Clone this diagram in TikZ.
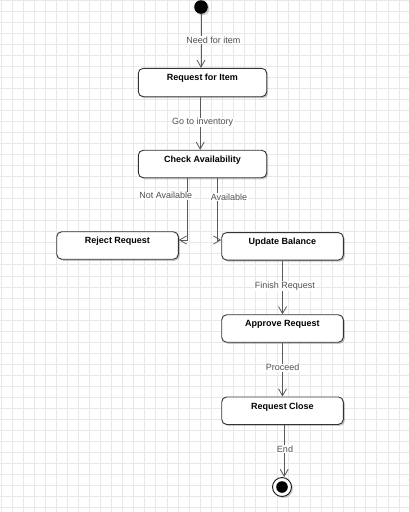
\documentclass[tikz,border=0pt]{standalone}
\usepackage{fontspec}
\setmainfont{Liberation Sans}
\usetikzlibrary{arrows.meta,shadows}
\definecolor{gridc}{HTML}{E8E8E8}
\definecolor{linec}{HTML}{5A5A5A}
\definecolor{labc}{HTML}{505050}
\definecolor{boxc}{HTML}{333333}
\begin{document}
\begin{tikzpicture}[x=1pt,y=-1pt,
  stbox/.style={draw=boxc, line width=0.9pt, fill=white, rounded corners=5pt,
    minimum width=121.6pt, minimum height=27.5pt, inner sep=3pt,
    text height=9.2pt, text depth=12.3pt, font=\fontsize{9}{11}\selectfont\bfseries,
    drop shadow={shadow xshift=1.5pt, shadow yshift=-1.5pt, opacity=0.22, fill=black}},
  trlabel/.style={fill=white, inner sep=0.6pt, text=labc, font=\fontsize{9}{11}\selectfont},
  arr/.style={draw=linec, line width=0.9pt, -{Straight Barb[length=7pt,width=8pt,line width=0.8pt]}}
]
\useasboundingbox (0,0) rectangle (409,512);
\fill[white] (0,0) rectangle (409,512);
% grid
\foreach \i in {0,...,36} {\draw[gridc, line width=0.9pt] (1.24+11.05*\i,0) -- (1.24+11.05*\i,512);}
\foreach \j in {0,...,46} {\draw[gridc, line width=0.9pt] (0,0.7+11.01*\j) -- (409,0.7+11.01*\j);}

% start / end
\node[circle, fill=black, minimum size=13.6pt, inner sep=0pt,
  drop shadow={shadow xshift=1.5pt, shadow yshift=-1.5pt, opacity=0.2, fill=black}] (start) at (201,7) {};
\node[circle, draw=black!90, line width=0.9pt, fill=white, minimum size=19pt, inner sep=0pt,
  drop shadow={shadow xshift=1.5pt, shadow yshift=-1.5pt, opacity=0.2, fill=black}] (endc) at (282,487) {};
\node[circle, fill=black, minimum size=11.6pt, inner sep=0pt] (endi) at (endc.center) {};

% states
\node[stbox, minimum width=128.4pt, minimum height=28.4pt, text depth=13.2pt] (req) at (202.5,82.5) {Request for Item};
\node[stbox, minimum width=128.4pt] (check) at (202.5,164) {Check Availability};
\node[stbox] (reject) at (117.5,245.5) {Reject Request};
\node[stbox] (update) at (282.5,246.3) {Update Balance};
\node[stbox] (approve) at (282.5,328.5) {Approve Request};
\node[stbox] (close) at (282.5,410.7) {Request Close};

% connectors
\draw[arr] (start) -- (start |- req.north);
\coordinate (c1) at ([xshift=-2.3pt]req.south);
\draw[arr] (c1) -- (c1 |- check.north);
\draw[arr] ([xshift=-14.7pt]check.south) |- ([yshift=5.5pt]reject.east);
\draw[arr] ([xshift=14.8pt]check.south) |- ([yshift=6.3pt]update.west);
\draw[arr] (update.south) -- (approve.north);
\draw[arr] (approve.south) -- (close.north);
\coordinate (c2) at ([xshift=1.7pt]close.south);
\draw[arr] (c2) -- (c2 |- endc.north);

% labels
\node[trlabel] (l1) at (213.3,40) {Need for item};
\node[trlabel] (l2) at (202.7,122.3) {Go to inventory};
\node[trlabel] (l3) at (165.7,195.7) {Not Available};
\node[trlabel] (l4) at (229,197.3) {Available};
\node[trlabel] (l5) at (285,286) {Finish Request};
\node[trlabel] (l6) at (282.7,367.7) {Proceed};
\node[trlabel] (l7) at (285,449.3) {End};
\end{tikzpicture}
\end{document}
